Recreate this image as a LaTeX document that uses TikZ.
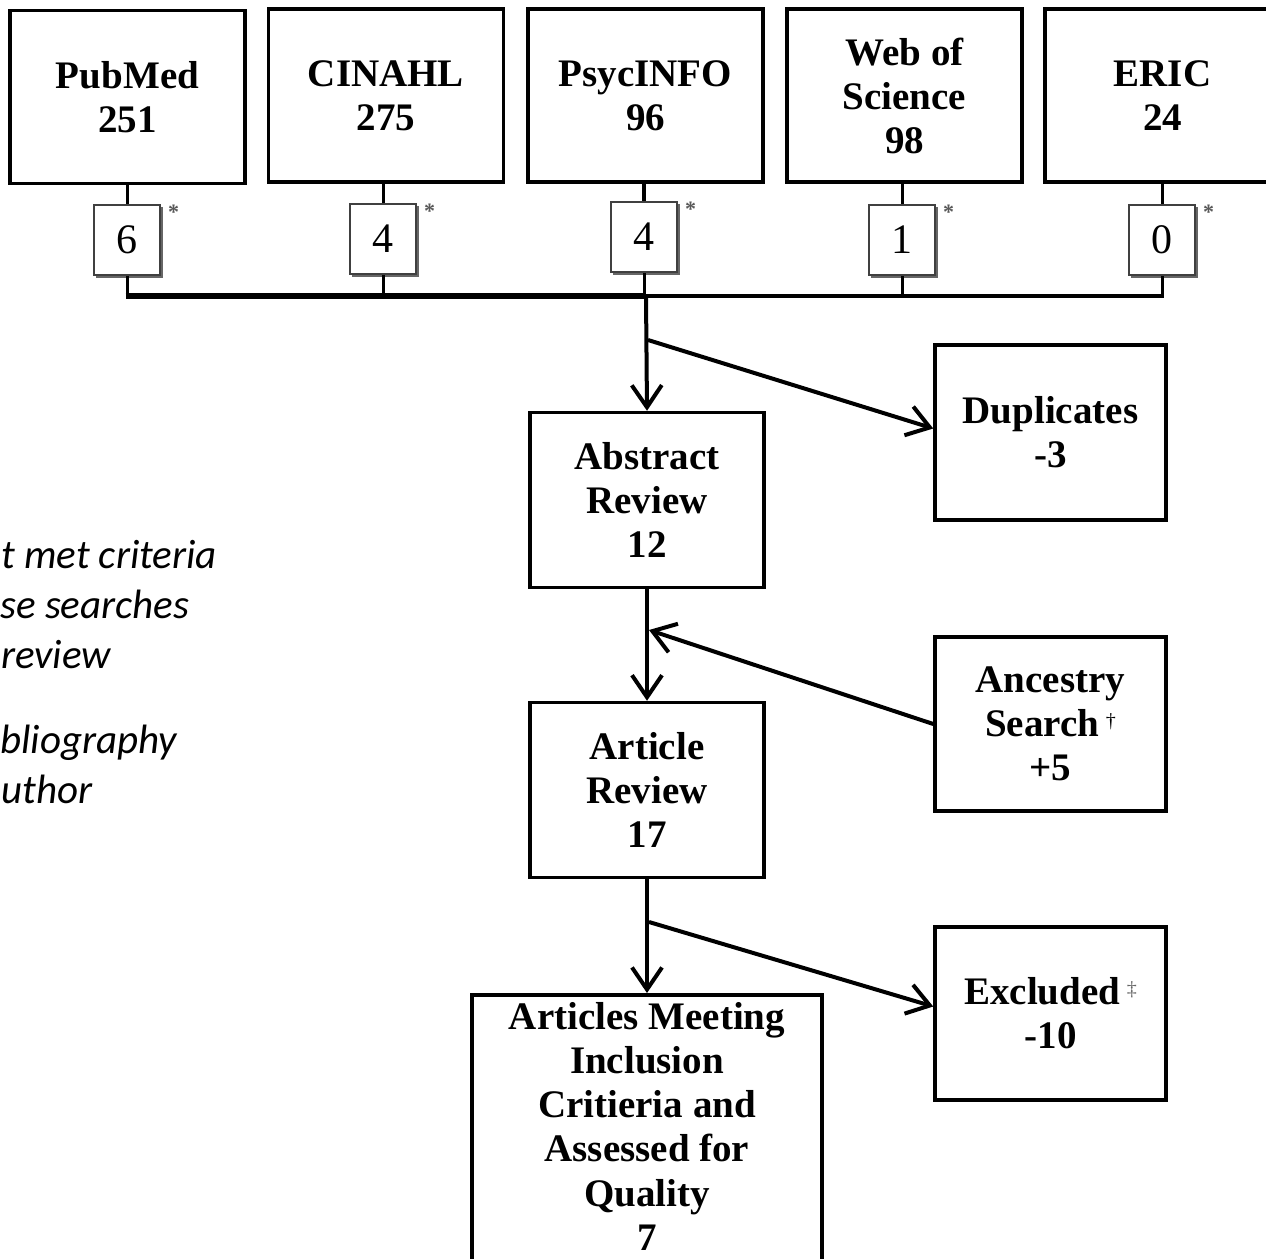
\documentclass[tikz,border=0pt]{standalone}
\usepackage{fontspec}
\setmainfont{Liberation Serif}
\newfontfamily\notefont{Carlito}
\usetikzlibrary{arrows.meta}
\begin{document}
\begin{tikzpicture}[x=1pt,y=-1pt,
  bigbox/.style={draw=black,line width=3.5pt,fill=white,minimum width=235pt,minimum height=173pt,
    align=center,font=\fontsize{39}{44}\selectfont\bfseries,inner sep=0pt},
  numbox/.style={draw=black!75,line width=2pt,fill=white,minimum width=66pt,minimum height=70pt,
    inner sep=0pt,font=\fontsize{42}{44}\selectfont},
  numshadow/.style={fill=black!60},
  starmark/.style={font=\fontsize{22}{22}\selectfont\bfseries,text=black!65,inner sep=0pt},
  conn/.style={line width=4pt,black},
  arr/.style={conn,-{Straight Barb[length=22pt,width=30pt,line width=4pt]}},
  note/.style={font=\fontsize{41}{50}\selectfont\notefont\itshape,anchor=base west,inner sep=0pt}
]
\useasboundingbox (0,0) rectangle (1266,1258);
\fill[white] (0,0) rectangle (1266,1258);

% top boxes
\node[bigbox] (pub) at (127.5,97) {PubMed\\251};
\node[bigbox] (cin) at (386,95.5) {CINAHL\\275};
\node[bigbox] (psy) at (645.5,95.5) {PsycINFO\\96};
\node[bigbox] (wos) at (904.5,95.5) {Web of\\Science\\98};
\node[bigbox] (eric) at (1162.5,95.5) {ERIC\\24};

% small count boxes (with shadow)
\foreach \x/\y in {127/240,383/239,644/237,902/240,1162/240}{
  \fill[numshadow] (\x-31,\y-33) rectangle (\x+36,\y+38);
}
\node[numbox] (n1) at (127,240) {6};
\node[numbox] (n2) at (383,239) {4};
\node[numbox] (n3) at (644,237) {4};
\node[numbox] (n4) at (902,240) {1};
\node[numbox] (n5) at (1162,240) {0};
\foreach \n in {n1,n2,n3,n4,n5}{
  \node[starmark,anchor=north west] (\n m) at ([xshift=7pt,yshift=-1pt]\n.north east) {*};
}

% stems
\draw[conn,line width=3pt] (pub.south -| n1.north) -- (n1.north);
\draw[conn,line width=3pt] (cin.south -| n2.north) -- (n2.north);
\draw[conn,line width=4pt] (psy.south -| n3.north) -- (n3.north);
\draw[conn,line width=3pt] (wos.south -| n4.north) -- (n4.north);
\draw[conn,line width=3pt] (eric.south -| n5.north) -- (n5.north);

% bus
\coordinate (busL) at (127,296);
\coordinate (busM) at (646,296);
\coordinate (busR) at (1162,296);
\draw[conn,line width=3pt] (n1.south) -- (busL);
\draw[conn,line width=3pt] (n2.south) -- (n2.south |- busM);
\draw[conn,line width=3pt] (n3.south) -- (n3.south |- busM);
\draw[conn,line width=3pt] (n4.south) -- (n4.south |- busR);
\draw[conn,line width=3pt] (n5.south) -- (busR);
\draw[conn,line width=6pt] ([xshift=-1.5pt]busL) -- (busM);
\draw[conn,line width=3.5pt] (busM) -- ([xshift=1.5pt]busR);

% flow boxes
\node[bigbox,minimum width=234pt,minimum height=175pt] (abs) at (647,500) {Abstract\\Review\\12};
\node[bigbox,minimum width=231pt,minimum height=175pt] (dup) at (1050.5,432.5) {Duplicates\\-3};
\node[bigbox,minimum width=234pt,minimum height=175pt] (art) at (647,790) {Article\\Review\\17};
\node[bigbox,minimum width=231pt,minimum height=174pt] (anc) at (1050.5,724) {Ancestry\\Search\,\raisebox{0.5ex}{\fontsize{20}{20}\selectfont\mdseries\textdagger}\\+5};
\node[bigbox,minimum width=231pt,minimum height=173pt] (exc) at (1050.5,1013.5) {Excluded\,\raisebox{0.5ex}{\fontsize{20}{20}\selectfont\mdseries\textcolor{black!60}{\textdaggerdbl}}\\-10};
\node[bigbox,minimum width=350pt,minimum height=290pt,anchor=north,text height=0pt] (fin) at (647,993) {};
\node[font=\fontsize{39}{44.2}\selectfont\bfseries,align=center,anchor=north,inner sep=0pt] (fint) at (647,1002)
  {Articles Meeting\\Inclusion\\Critieria and\\Assessed for\\Quality\\7};

% connectors
\coordinate (bD) at (648,340);
\coordinate (bA) at (649,630);
\coordinate (bE) at (649,922);
\draw[arr] (busM) -- (abs.north);
\draw[arr] (bD) -- ([yshift=4pt]dup.west);
\draw[arr] (abs.south) -- (art.north);
\draw[arr] (anc.west) -- (bA);
\draw[arr] (art.south) -- (fin.north);
\draw[arr] (bE) -- ([yshift=7pt]exc.west);

% footnote fragments (cut at the left edge as in the reference)
\node[note] (t1) at (1,568) {t met criteria};
\node[note] (t2) at (0,618) {se searches};
\node[note] (t3) at (1,668) {review};
\node[note] (t4) at (0,753) {bliography};
\node[note] (t5) at (1,803) {uthor};
\end{tikzpicture}
\end{document}
